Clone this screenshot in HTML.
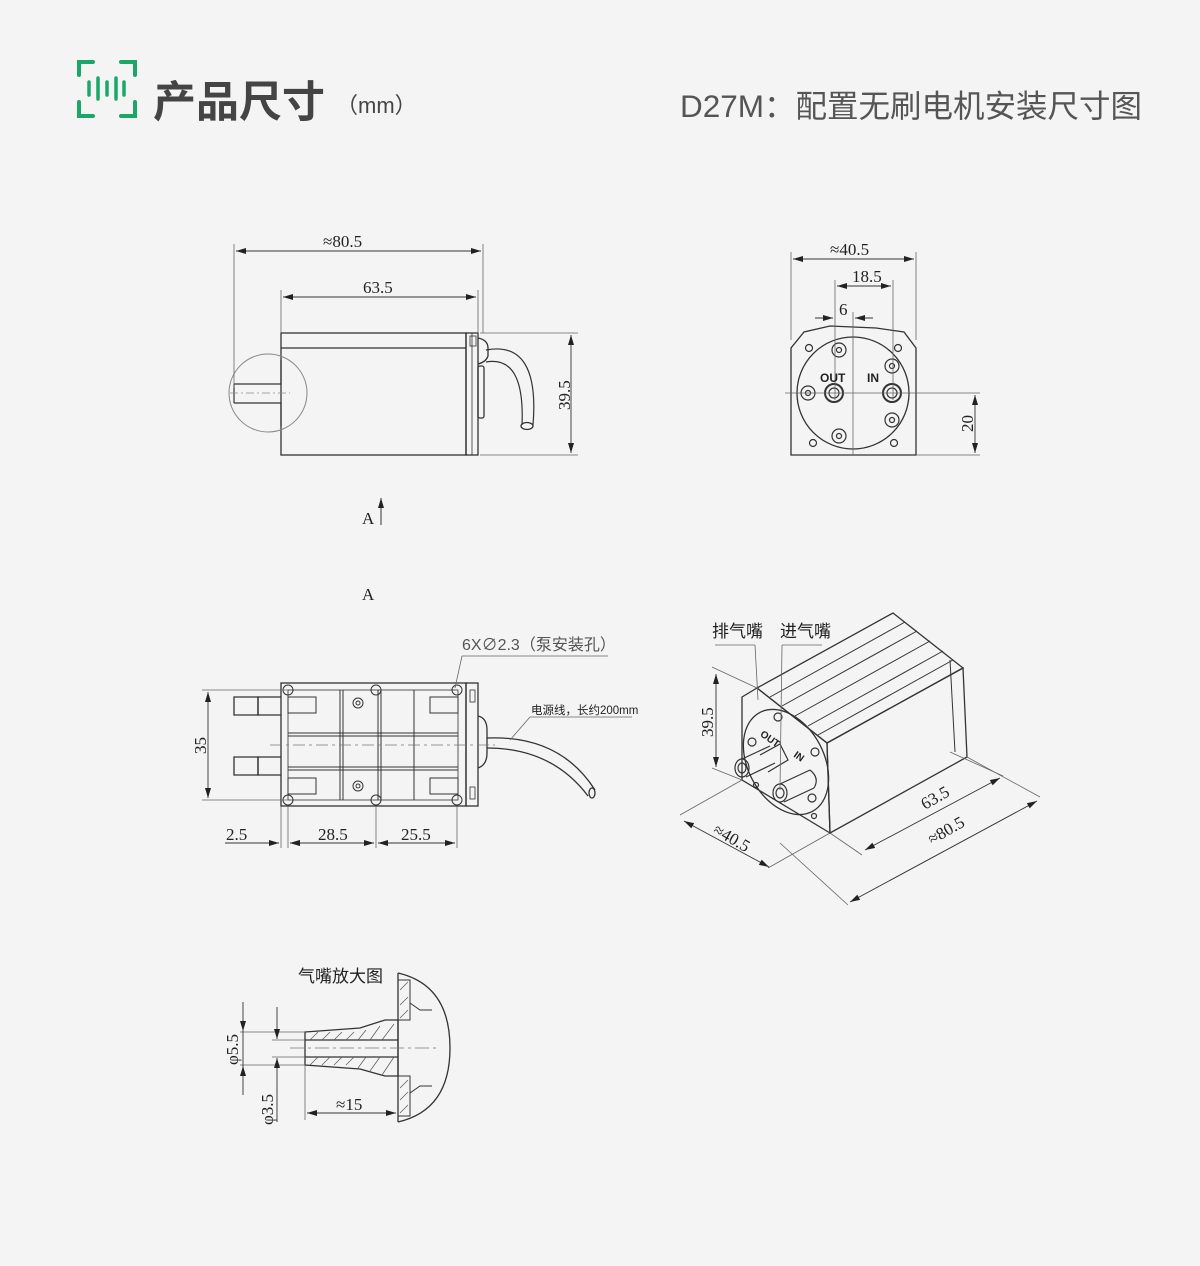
<!DOCTYPE html>
<html><head><meta charset="utf-8"><style>
html,body{margin:0;padding:0;background:#f4f4f4;}
svg{display:block;}
text{font-family:"Liberation Sans","Noto Sans CJK SC",sans-serif;}
.n{font-family:"Liberation Serif","Noto Serif CJK SC",serif;font-size:17px;fill:#222;}
</style></head><body>
<svg width="1200" height="1266" viewBox="0 0 1200 1266" xmlns="http://www.w3.org/2000/svg">
<defs>
<marker id="a" viewBox="0 0 10 6" refX="10" refY="3" markerWidth="10" markerHeight="6" orient="auto-start-reverse" markerUnits="userSpaceOnUse"><path d="M0,0L10,3L0,6z" fill="#222"/></marker>
</defs>
<rect width="1200" height="1266" fill="#f4f4f4"/>
<g fill="none" stroke="#1aa86a" stroke-width="4" stroke-linecap="round">
<path d="M79,75V62H93"/><path d="M121,62H135V75"/><path d="M79,102V116H93"/><path d="M121,116H135V102"/>
<path d="M89,82V95M98,78V99M107,82V95M116,78V99M124,82V95" stroke-width="3.5"/>
</g>
<text x="153" y="117" font-size="43" font-weight="bold" fill="#444">产品尺寸</text>
<text x="336" y="113" font-size="22" fill="#444">（mm）</text>
<text x="680" y="117" font-size="31.5" fill="#555">D27M：配置无刷电机安装尺寸图</text>

<g fill="none" stroke="#333" stroke-width="1.3">
<rect x="281" y="333" width="185" height="122"/>
<line x1="281" y1="348" x2="466" y2="348"/>
<rect x="466" y="333" width="12" height="122"/>
<line x1="472" y1="333" x2="472" y2="455" stroke-width="0.8"/>
<rect x="470" y="336" width="6" height="10" stroke-width="0.8"/>
<path d="M478,338 Q488,340 488,348 V356 Q486,362 478,364"/>
<rect x="478" y="366" width="6" height="52" rx="2"/>
<path d="M486,350 Q540,340 533,425" stroke-width="1.2"/>
<path d="M486,362 Q525,355 522,425" stroke-width="1.2"/>
<ellipse cx="527" cy="426" rx="6" ry="3.5"/>
<circle cx="268" cy="393" r="39" stroke="#888" stroke-width="1"/>
<path d="M234,384H281V360 M234,403H281V426 M234,384V403" stroke-width="1.2"/>
<line x1="230" y1="393" x2="290" y2="393" stroke="#888" stroke-dasharray="8,3,2,3" stroke-width="0.8"/>
<g stroke="#666" stroke-width="0.8">
<line x1="234" y1="244" x2="234" y2="388"/><line x1="483" y1="244" x2="483" y2="333"/>
<line x1="281" y1="290" x2="281" y2="333"/><line x1="478" y1="290" x2="478" y2="333"/>
<line x1="480" y1="333" x2="578" y2="333"/><line x1="480" y1="455" x2="578" y2="455"/>
</g>
<line x1="236" y1="251" x2="481" y2="251" marker-start="url(#a)" marker-end="url(#a)" stroke-width="0.9"/>
<line x1="283" y1="297" x2="476" y2="297" marker-start="url(#a)" marker-end="url(#a)" stroke-width="0.9"/>
<line x1="571" y1="335" x2="571" y2="453" marker-start="url(#a)" marker-end="url(#a)" stroke-width="0.9"/>

<path d="M791,455V348L804,332L830,326L876,328L904,332L916,348V455Z"/>
<circle cx="853" cy="393" r="56"/>
<g stroke-width="1.2">
<circle cx="839" cy="350" r="7"/><circle cx="839" cy="350" r="2.5"/>
<circle cx="839" cy="436" r="7"/><circle cx="839" cy="436" r="2.5"/>
<circle cx="808" cy="393" r="7"/><circle cx="808" cy="393" r="2.5"/>
<circle cx="892" cy="366" r="7"/><circle cx="892" cy="366" r="2.5"/>
<circle cx="892" cy="420" r="7"/><circle cx="892" cy="420" r="2.5"/>
<circle cx="809" cy="348" r="3.5"/><circle cx="898" cy="348" r="3.5"/>
<circle cx="813" cy="443" r="3.5"/><circle cx="894" cy="443" r="3.5"/>
<circle cx="834" cy="393" r="9" stroke-width="2"/><circle cx="834" cy="393" r="5"/>
<circle cx="892" cy="393" r="9" stroke-width="2"/><circle cx="892" cy="393" r="5"/>
</g>
<g stroke="#666" stroke-width="0.8">
<line x1="791" y1="252" x2="791" y2="340"/><line x1="916" y1="252" x2="916" y2="340"/>
<line x1="835" y1="280" x2="835" y2="400"/><line x1="893" y1="280" x2="893" y2="400"/>
<line x1="853" y1="312" x2="853" y2="455"/>
<line x1="785" y1="393" x2="980" y2="393"/><line x1="916" y1="455" x2="980" y2="455"/>
</g>
<line x1="793" y1="259" x2="914" y2="259" marker-start="url(#a)" marker-end="url(#a)" stroke-width="0.9"/>
<line x1="837" y1="286" x2="891" y2="286" marker-start="url(#a)" marker-end="url(#a)" stroke-width="0.9"/>
<line x1="815" y1="318" x2="833" y2="318" marker-end="url(#a)" stroke-width="0.9"/>
<line x1="873" y1="318" x2="855" y2="318" marker-end="url(#a)" stroke-width="0.9"/>
<line x1="975" y1="395" x2="975" y2="453" marker-start="url(#a)" marker-end="url(#a)" stroke-width="0.9"/>

<line x1="381" y1="525" x2="381" y2="498" marker-end="url(#a)" stroke-width="1"/>

<rect x="281" y="683" width="185" height="123"/>
<rect x="288" y="690" width="170" height="110" stroke-width="0.8"/>
<rect x="466" y="683" width="12" height="123"/>
<g stroke-width="1">
<line x1="288" y1="733" x2="458" y2="733"/><line x1="288" y1="736" x2="458" y2="736"/>
<line x1="288" y1="767" x2="458" y2="767"/><line x1="288" y1="770" x2="458" y2="770"/>
<line x1="340" y1="690" x2="340" y2="800"/><line x1="343" y1="690" x2="343" y2="800"/>
<line x1="378" y1="690" x2="378" y2="800"/><line x1="381" y1="690" x2="381" y2="800"/>
<line x1="414" y1="690" x2="414" y2="800"/>
<rect x="288" y="697" width="28" height="16"/><rect x="430" y="697" width="28" height="16"/>
<rect x="288" y="778" width="28" height="16"/><rect x="430" y="778" width="28" height="16"/>
<circle cx="288" cy="690" r="5"/><circle cx="376" cy="690" r="5"/><circle cx="457" cy="690" r="5"/>
<circle cx="288" cy="800" r="5"/><circle cx="376" cy="800" r="5"/><circle cx="457" cy="800" r="5"/>
<circle cx="358" cy="703" r="5"/><circle cx="358" cy="703" r="2"/>
<circle cx="358" cy="786" r="5"/><circle cx="358" cy="786" r="2"/>
</g>
<path d="M281,697H258V715H281M281,757H258V775H281"/>
<path d="M234,697H258V715H234ZM234,757H258V775H234Z"/>
<path d="M478,716Q487,718 487,730V753Q487,765 478,768"/>
<rect x="470" y="690" width="5" height="12" stroke-width="0.8"/><rect x="470" y="787" width="5" height="12" stroke-width="0.8"/>
<path d="M487,738Q560,735 595,790"/><path d="M487,748Q552,748 588,796"/>
<ellipse cx="592" cy="793" rx="3" ry="5"/>
<line x1="270" y1="745" x2="495" y2="745" stroke="#777" stroke-dasharray="12,4,3,4" stroke-width="0.7"/>
<g stroke="#666" stroke-width="0.8">
<line x1="202" y1="690" x2="288" y2="690"/><line x1="202" y1="800" x2="288" y2="800"/>
<line x1="281" y1="806" x2="281" y2="848"/><line x1="288" y1="806" x2="288" y2="848"/>
<line x1="376" y1="806" x2="376" y2="848"/><line x1="457" y1="806" x2="457" y2="848"/>
<line x1="462" y1="656" x2="608" y2="656"/><line x1="462" y1="656" x2="455" y2="688"/>
<line x1="530" y1="717" x2="632" y2="717"/><line x1="530" y1="717" x2="510" y2="740"/>
</g>
<line x1="208" y1="692" x2="208" y2="798" marker-start="url(#a)" marker-end="url(#a)" stroke-width="0.9"/>
<line x1="225" y1="843" x2="279" y2="843" marker-end="url(#a)" stroke-width="0.9"/>
<line x1="310" y1="843" x2="290" y2="843" marker-end="url(#a)" stroke-width="0.9"/>
<line x1="290" y1="843" x2="374" y2="843" marker-start="url(#a)" marker-end="url(#a)" stroke-width="0.9"/>
<line x1="378" y1="843" x2="455" y2="843" marker-start="url(#a)" marker-end="url(#a)" stroke-width="0.9"/>

<path d="M757,688L893,613L963,668L827,743Z" stroke-width="1.3"/>
<path d="M827,743L963,668L967,757L830,833Z" stroke-width="1.3"/>
<path d="M742,697L757,688L827,743L830,833L742,780Z" stroke-width="1.3"/>
<g stroke-width="1">
<line x1="770" y1="697" x2="905" y2="622"/><line x1="782" y1="706" x2="917" y2="631"/>
<line x1="795" y1="716" x2="930" y2="641"/><line x1="808" y1="726" x2="943" y2="651"/>
<line x1="818" y1="735" x2="953" y2="660"/>
<line x1="950" y1="660" x2="955" y2="752"/>
</g>
<ellipse cx="786" cy="762" rx="38" ry="56" transform="rotate(-28 786 762)"/>
<g stroke-width="1.2">
<path d="M760,755L780,744L788,760L768,772"/><ellipse cx="742" cy="768" rx="7" ry="9"/><ellipse cx="742" cy="768" rx="4" ry="5"/>
<path d="M742,759L770,746M746,777L775,763"/>
<ellipse cx="780" cy="793" rx="7" ry="9"/><ellipse cx="780" cy="793" rx="4" ry="5"/>
<path d="M780,784L810,770M784,802L814,788M810,770Q820,778 814,788"/>
<circle cx="778" cy="717" r="4"/><circle cx="815" cy="752" r="4"/><circle cx="812" cy="798" r="4"/><circle cx="752" cy="742" r="4"/>
<circle cx="756" cy="785" r="2.5"/><circle cx="814" cy="816" r="2.5"/>
</g>
<g stroke="#666" stroke-width="0.8">
<line x1="712" y1="667" x2="757" y2="688"/><line x1="712" y1="768" x2="742" y2="780"/>
<line x1="742" y1="780" x2="680" y2="815"/><line x1="830" y1="833" x2="768" y2="868"/>
<line x1="830" y1="833" x2="862" y2="855"/><line x1="967" y1="757" x2="1040" y2="797"/>
<line x1="950" y1="752" x2="1003" y2="776"/><line x1="780" y1="843" x2="848" y2="905"/>
<line x1="715" y1="645" x2="755" y2="645"/><line x1="755" y1="645" x2="758" y2="700"/>
<line x1="782" y1="645" x2="822" y2="645"/><line x1="782" y1="645" x2="780" y2="790"/>
</g>
<line x1="716" y1="674" x2="716" y2="767" marker-start="url(#a)" marker-end="url(#a)" stroke-width="0.9"/>
<line x1="684" y1="821" x2="769" y2="867" marker-start="url(#a)" marker-end="url(#a)" stroke-width="0.9"/>
<line x1="865" y1="850" x2="1000" y2="778" marker-start="url(#a)" marker-end="url(#a)" stroke-width="0.9"/>
<line x1="850" y1="902" x2="1037" y2="801" marker-start="url(#a)" marker-end="url(#a)" stroke-width="0.9"/>

<path d="M305,1032L360,1028L385,1020H398V1076H385L360,1069L305,1065Z"/>
<line x1="305" y1="1040" x2="398" y2="1040"/><line x1="305" y1="1057" x2="398" y2="1057"/>
<path d="M398,973V1122"/><path d="M398,973Q450,985 450,1048Q450,1110 398,1122"/>
<path d="M398,980H410V1003L420,1010H432M410,1003V1020H398" stroke-width="1"/>
<path d="M398,1116H410V1093L420,1086H432M410,1093V1076H398" stroke-width="1"/>
<g stroke="#555" stroke-width="0.7">
<path d="M310,1040l8,-8M322,1040l8,-8M334,1040l8,-8M346,1040l8,-8M358,1040l8,-10M370,1040l10,-14M382,1040l12,-16M310,1065l8,-8M322,1065l8,-8M334,1065l8,-8M346,1065l8,-8M358,1068l8,-11M370,1071l10,-14M382,1075l12,-18"/>
<path d="M400,990l8,-8M400,1005l8,-8M400,1018l8,-8M400,1088l8,-8M400,1100l8,-8M400,1113l8,-8"/>
</g>
<line x1="290" y1="1048" x2="440" y2="1048" stroke="#777" stroke-dasharray="14,4,3,4" stroke-width="0.7"/>
<g stroke="#666" stroke-width="0.8">
<line x1="240" y1="1032" x2="305" y2="1032"/><line x1="240" y1="1065" x2="305" y2="1065"/>
<line x1="272" y1="1040" x2="305" y2="1040"/><line x1="272" y1="1057" x2="305" y2="1057"/>
<line x1="305" y1="1065" x2="305" y2="1120"/>
</g>
<line x1="243" y1="1002" x2="243" y2="1031" marker-end="url(#a)" stroke-width="0.9"/>
<line x1="243" y1="1095" x2="243" y2="1066" marker-end="url(#a)" stroke-width="0.9"/>
<line x1="243" y1="1031" x2="243" y2="1066" stroke-width="0.9"/>
<line x1="277" y1="1007" x2="277" y2="1039" marker-end="url(#a)" stroke-width="0.9"/>
<line x1="277" y1="1122" x2="277" y2="1058" marker-end="url(#a)" stroke-width="0.9"/>
<line x1="307" y1="1113" x2="396" y2="1113" marker-start="url(#a)" marker-end="url(#a)" stroke-width="0.9"/>
</g>

<text class="n" x="323" y="247">≈80.5</text>
<text class="n" x="363" y="293">63.5</text>
<text class="n" transform="translate(570,410) rotate(-90)">39.5</text>
<text class="n" x="830" y="255">≈40.5</text>
<text class="n" x="852" y="282">18.5</text>
<text class="n" x="839" y="315">6</text>
<text class="n" transform="translate(973,432) rotate(-90)">20</text>
<text x="820" y="382" font-size="12" font-weight="bold" fill="#222">OUT</text>
<text x="867" y="382" font-size="12" font-weight="bold" fill="#222">IN</text>
<text class="n" x="362" y="524">A</text>
<text class="n" x="362" y="600">A</text>
<text x="462" y="650" font-size="16" fill="#555">6X∅2.3（泵安装孔）</text>
<text x="531" y="714" font-size="11.5" fill="#222">电源线，长约200mm</text>
<text class="n" transform="translate(206,754) rotate(-90)">35</text>
<text class="n" x="226" y="840">2.5</text>
<text class="n" x="318" y="840">28.5</text>
<text class="n" x="401" y="840">25.5</text>
<text x="712" y="637" font-size="17" fill="#222">排气嘴</text>
<text x="780" y="637" font-size="17" fill="#222">进气嘴</text>
<text class="n" transform="translate(713,737) rotate(-90)">39.5</text>
<text class="n" transform="translate(712,833) rotate(30)">≈40.5</text>
<text class="n" transform="translate(925,810) rotate(-30)">63.5</text>
<text class="n" transform="translate(932,845) rotate(-30)">≈80.5</text>
<text x="760" y="742" font-size="10" font-weight="bold" fill="#222" transform="rotate(35 770 738)">OUT</text>
<text x="795" y="760" font-size="10" font-weight="bold" fill="#222" transform="rotate(35 800 755)">IN</text>
<text x="298" y="982" font-size="17" fill="#222">气嘴放大图</text>
<text class="n" transform="translate(238,1065) rotate(-90)">φ5.5</text>
<text class="n" transform="translate(273,1125) rotate(-90)">φ3.5</text>
<text class="n" x="336" y="1110">≈15</text>
</svg>
</body></html>
